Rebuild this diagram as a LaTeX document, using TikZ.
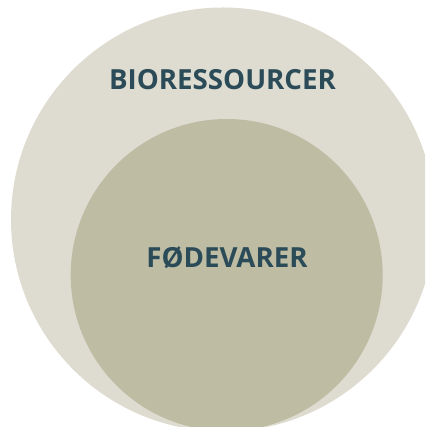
\documentclass[tikz,border=0pt]{standalone}
\usepackage{fontspec}
\setmainfont{Open Sans}
\usetikzlibrary{positioning}
\definecolor{outerFill}{HTML}{DEDCD0}
\definecolor{innerFill}{HTML}{BEBDA4}
\definecolor{labelText}{HTML}{2A4B57}
\begin{document}
\begin{tikzpicture}[x=1pt,y=1pt,
  circleStyle/.style={circle,draw=none,inner sep=0pt},
  labelStyle/.style={text=labelText,font=\bfseries\fontsize{27.7}{32}\selectfont,
    inner sep=0pt,anchor=base}
]
%
\pgfmathsetmacro{\outerRadius}{212}  % Radius of the outer circle.
\pgfmathsetmacro{\innerRadius}{156}  % Radius of the inner circle.
\useasboundingbox (0,0) rectangle (425,427);
\clip (0,0) rectangle (425,427);
%
% The two circles.
\node[circleStyle,fill=outerFill,minimum size=2*\outerRadius] (bioCircle) at (223,207.5) {};
\node[circleStyle,fill=innerFill,minimum size=2*\innerRadius] (foodCircle) at (226.7,152) {};
%
% The labels.
\node[labelStyle] (bioLabel) at (222.5,337) {BIORESSOURCER};
\node[labelStyle] (foodLabel) at (227,159) {FØDEVARER};
\end{tikzpicture}
\end{document}
